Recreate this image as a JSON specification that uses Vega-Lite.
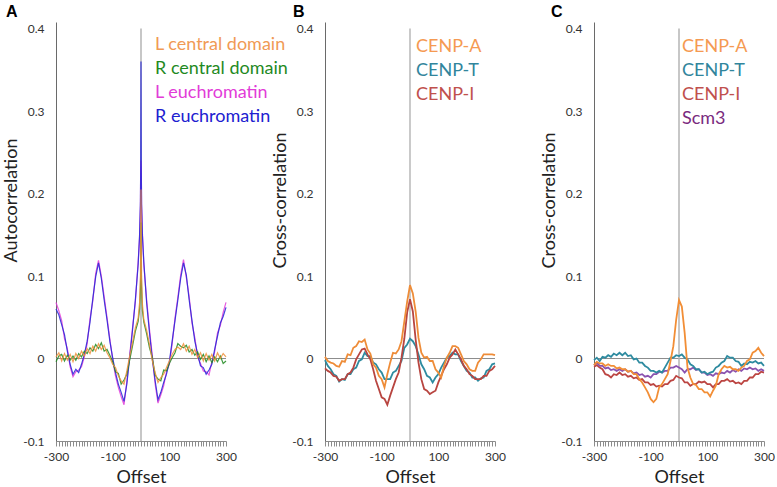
{
"$schema": "https://vega.github.io/schema/vega-lite/v6.json",
"background": "white",
"padding": {"left": 2, "top": 4, "right": 0, "bottom": 0},
"bounds": "flush",
"spacing": 99,
"config": {"view": {"stroke": null}, "font": "Lato"},
"resolve": {"scale": {"color": "independent", "x": "independent", "y": "independent"}, "legend": {"color": "independent"}},
"datasets": {
"a": [
{"x":-300,"s":"LE","y":0.068},{"x":-300,"s":"RE","y":0.060},{"x":-300,"s":"RC","y":-0.004},{"x":-300,"s":"LC","y":0.002},
{"x":-290,"s":"RE","y":0.053},{"x":-290,"s":"LE","y":0.058},{"x":-290,"s":"LC","y":0.007},{"x":-290,"s":"RC","y":0.003},
{"x":-280,"s":"RE","y":0.041},{"x":-280,"s":"LE","y":0.046},{"x":-280,"s":"LC","y":-0.003},{"x":-280,"s":"RC","y":0.005},
{"x":-270,"s":"RE","y":0.029},{"x":-270,"s":"LE","y":0.024},{"x":-270,"s":"LC","y":0.006},{"x":-270,"s":"RC","y":-0.003},
{"x":-260,"s":"RE","y":0.009},{"x":-260,"s":"LE","y":0.012},{"x":-260,"s":"LC","y":-0.002},{"x":-260,"s":"RC","y":0.004},
{"x":-250,"s":"RE","y":-0.007},{"x":-250,"s":"LE","y":-0.010},{"x":-250,"s":"LC","y":0.005},{"x":-250,"s":"RC","y":-0.002},
{"x":-240,"s":"RE","y":-0.019},{"x":-240,"s":"LE","y":-0.022},{"x":-240,"s":"LC","y":-0.004},{"x":-240,"s":"RC","y":0.003},
{"x":-230,"s":"RE","y":-0.013},{"x":-230,"s":"LE","y":-0.016},{"x":-230,"s":"LC","y":0.006},{"x":-230,"s":"RC","y":-0.002},
{"x":-220,"s":"RE","y":-0.017},{"x":-220,"s":"LE","y":-0.014},{"x":-220,"s":"LC","y":0.000},{"x":-220,"s":"RC","y":0.006},
{"x":-210,"s":"RE","y":-0.007},{"x":-210,"s":"LE","y":-0.010},{"x":-210,"s":"LC","y":0.009},{"x":-210,"s":"RC","y":0.002},
{"x":-200,"s":"RE","y":0.005},{"x":-200,"s":"LE","y":0.002},{"x":-200,"s":"LC","y":0.003},{"x":-200,"s":"RC","y":0.009},
{"x":-190,"s":"RE","y":0.021},{"x":-190,"s":"LE","y":0.018},{"x":-190,"s":"LC","y":0.012},{"x":-190,"s":"RC","y":0.006},
{"x":-180,"s":"RE","y":0.044},{"x":-180,"s":"LE","y":0.048},{"x":-180,"s":"LC","y":0.006},{"x":-180,"s":"RC","y":0.013},
{"x":-170,"s":"RE","y":0.073},{"x":-170,"s":"LE","y":0.070},{"x":-170,"s":"LC","y":0.015},{"x":-170,"s":"RC","y":0.009},
{"x":-160,"s":"RE","y":0.099},{"x":-160,"s":"LE","y":0.103},{"x":-160,"s":"LC","y":0.009},{"x":-160,"s":"RC","y":0.017},
{"x":-150,"s":"RE","y":0.116},{"x":-150,"s":"LE","y":0.119},{"x":-150,"s":"LC","y":0.018},{"x":-150,"s":"RC","y":0.012},
{"x":-140,"s":"RE","y":0.097},{"x":-140,"s":"LE","y":0.100},{"x":-140,"s":"LC","y":0.011},{"x":-140,"s":"RC","y":0.019},
{"x":-130,"s":"RE","y":0.071},{"x":-130,"s":"LE","y":0.075},{"x":-130,"s":"LC","y":0.016},{"x":-130,"s":"RC","y":0.009},
{"x":-120,"s":"RE","y":0.047},{"x":-120,"s":"LE","y":0.050},{"x":-120,"s":"LC","y":0.007},{"x":-120,"s":"RC","y":0.011},
{"x":-110,"s":"RE","y":0.021},{"x":-110,"s":"LE","y":0.024},{"x":-110,"s":"LC","y":0.001},{"x":-110,"s":"RC","y":0.004},
{"x":-100,"s":"RE","y":0.001},{"x":-100,"s":"LE","y":-0.002},{"x":-100,"s":"LC","y":-0.007},{"x":-100,"s":"RC","y":-0.004},
{"x":-90,"s":"RE","y":-0.017},{"x":-90,"s":"LE","y":-0.021},{"x":-90,"s":"LC","y":-0.011},{"x":-90,"s":"RC","y":-0.016},
{"x":-80,"s":"RE","y":-0.031},{"x":-80,"s":"LE","y":-0.035},{"x":-80,"s":"LC","y":-0.021},{"x":-80,"s":"RC","y":-0.018},
{"x":-70,"s":"RE","y":-0.041},{"x":-70,"s":"LE","y":-0.046},{"x":-70,"s":"LC","y":-0.027},{"x":-70,"s":"RC","y":-0.031},
{"x":-60,"s":"RE","y":-0.052},{"x":-60,"s":"LE","y":-0.056},{"x":-60,"s":"LC","y":-0.031},{"x":-60,"s":"RC","y":-0.026},
{"x":-50,"s":"RE","y":-0.031},{"x":-50,"s":"LE","y":-0.028},{"x":-50,"s":"LC","y":-0.015},{"x":-50,"s":"RC","y":-0.019},
{"x":-40,"s":"RE","y":0.001},{"x":-40,"s":"LE","y":0.004},{"x":-40,"s":"LC","y":0.003},{"x":-40,"s":"RC","y":-0.002},
{"x":-30,"s":"RE","y":0.034},{"x":-30,"s":"LE","y":0.037},{"x":-30,"s":"LC","y":0.019},{"x":-30,"s":"RC","y":0.015},
{"x":-20,"s":"RE","y":0.071},{"x":-20,"s":"LE","y":0.068},{"x":-20,"s":"LC","y":0.037},{"x":-20,"s":"RC","y":0.033},
{"x":-10,"s":"RE","y":0.114},{"x":-10,"s":"LE","y":0.118},{"x":-10,"s":"LC","y":0.049},{"x":-10,"s":"RC","y":0.045},
{"x":-5,"s":"RE","y":0.150},{"x":-5,"s":"LE","y":0.146},{"x":-5,"s":"LC","y":0.068},{"x":-5,"s":"RC","y":0.060},
{"x":-2,"s":"RE","y":0.190},{"x":-2,"s":"LE","y":0.185},{"x":-2,"s":"LC","y":0.100},{"x":-2,"s":"RC","y":0.085},
{"x":-1,"s":"RE","y":0.236},{"x":-1,"s":"LE","y":0.232},{"x":-1,"s":"LC","y":0.140},{"x":-1,"s":"RC","y":0.110},
{"x":0,"s":"RE","y":0.360},{"x":0,"s":"LE","y":0.240},{"x":0,"s":"LC","y":0.205},{"x":0,"s":"RC","y":0.165},
{"x":1,"s":"RE","y":0.234},{"x":1,"s":"LE","y":0.230},{"x":1,"s":"LC","y":0.135},{"x":1,"s":"RC","y":0.112},
{"x":2,"s":"RE","y":0.188},{"x":2,"s":"LE","y":0.186},{"x":2,"s":"LC","y":0.098},{"x":2,"s":"RC","y":0.088},
{"x":5,"s":"RE","y":0.149},{"x":5,"s":"LE","y":0.152},{"x":5,"s":"LC","y":0.066},{"x":5,"s":"RC","y":0.058},
{"x":10,"s":"RE","y":0.117},{"x":10,"s":"LE","y":0.113},{"x":10,"s":"LC","y":0.047},{"x":10,"s":"RC","y":0.044},
{"x":20,"s":"RE","y":0.067},{"x":20,"s":"LE","y":0.071},{"x":20,"s":"LC","y":0.034},{"x":20,"s":"RC","y":0.030},
{"x":30,"s":"RE","y":0.031},{"x":30,"s":"LE","y":0.035},{"x":30,"s":"LC","y":0.017},{"x":30,"s":"RC","y":0.013},
{"x":40,"s":"RE","y":-0.001},{"x":40,"s":"LE","y":0.003},{"x":40,"s":"LC","y":-0.003},{"x":40,"s":"RC","y":0.001},
{"x":50,"s":"RE","y":-0.027},{"x":50,"s":"LE","y":-0.031},{"x":50,"s":"LC","y":-0.017},{"x":50,"s":"RC","y":-0.020},
{"x":60,"s":"RE","y":-0.050},{"x":60,"s":"LE","y":-0.054},{"x":60,"s":"LC","y":-0.029},{"x":60,"s":"RC","y":-0.025},
{"x":70,"s":"RE","y":-0.041},{"x":70,"s":"LE","y":-0.044},{"x":70,"s":"LC","y":-0.023},{"x":70,"s":"RC","y":-0.027},
{"x":80,"s":"RE","y":-0.029},{"x":80,"s":"LE","y":-0.033},{"x":80,"s":"LC","y":-0.019},{"x":80,"s":"RC","y":-0.014},
{"x":90,"s":"RE","y":-0.019},{"x":90,"s":"LE","y":-0.016},{"x":90,"s":"LC","y":-0.011},{"x":90,"s":"RC","y":-0.015},
{"x":100,"s":"RE","y":-0.004},{"x":100,"s":"LE","y":-0.007},{"x":100,"s":"LC","y":-0.003},{"x":100,"s":"RC","y":-0.006},
{"x":110,"s":"RE","y":0.021},{"x":110,"s":"LE","y":0.018},{"x":110,"s":"LC","y":0.005},{"x":110,"s":"RC","y":0.001},
{"x":120,"s":"RE","y":0.046},{"x":120,"s":"LE","y":0.049},{"x":120,"s":"LC","y":0.011},{"x":120,"s":"RC","y":0.007},
{"x":130,"s":"RE","y":0.071},{"x":130,"s":"LE","y":0.074},{"x":130,"s":"LC","y":0.014},{"x":130,"s":"RC","y":0.018},
{"x":140,"s":"RE","y":0.097},{"x":140,"s":"LE","y":0.101},{"x":140,"s":"LC","y":0.011},{"x":140,"s":"RC","y":0.015},
{"x":150,"s":"RE","y":0.116},{"x":150,"s":"LE","y":0.120},{"x":150,"s":"LC","y":0.018},{"x":150,"s":"RC","y":0.013},
{"x":160,"s":"RE","y":0.101},{"x":160,"s":"LE","y":0.098},{"x":160,"s":"LC","y":0.009},{"x":160,"s":"RC","y":0.016},
{"x":170,"s":"RE","y":0.071},{"x":170,"s":"LE","y":0.075},{"x":170,"s":"LC","y":0.015},{"x":170,"s":"RC","y":0.008},
{"x":180,"s":"RE","y":0.046},{"x":180,"s":"LE","y":0.043},{"x":180,"s":"LC","y":0.005},{"x":180,"s":"RC","y":0.011},
{"x":190,"s":"RE","y":0.021},{"x":190,"s":"LE","y":0.025},{"x":190,"s":"LC","y":0.011},{"x":190,"s":"RC","y":0.004},
{"x":200,"s":"RE","y":0.005},{"x":200,"s":"LE","y":0.002},{"x":200,"s":"LC","y":0.001},{"x":200,"s":"RC","y":0.008},
{"x":210,"s":"RE","y":-0.009},{"x":210,"s":"LE","y":-0.006},{"x":210,"s":"LC","y":0.007},{"x":210,"s":"RC","y":-0.001},
{"x":220,"s":"RE","y":-0.011},{"x":220,"s":"LE","y":-0.015},{"x":220,"s":"LC","y":-0.003},{"x":220,"s":"RC","y":0.005},
{"x":230,"s":"RE","y":-0.019},{"x":230,"s":"LE","y":-0.016},{"x":230,"s":"LC","y":0.006},{"x":230,"s":"RC","y":-0.004},
{"x":240,"s":"RE","y":-0.014},{"x":240,"s":"LE","y":-0.020},{"x":240,"s":"LC","y":-0.002},{"x":240,"s":"RC","y":0.003},
{"x":250,"s":"RE","y":-0.007},{"x":250,"s":"LE","y":-0.004},{"x":250,"s":"LC","y":0.005},{"x":250,"s":"RC","y":-0.005},
{"x":260,"s":"RE","y":0.011},{"x":260,"s":"LE","y":0.008},{"x":260,"s":"LC","y":-0.003},{"x":260,"s":"RC","y":0.002},
{"x":270,"s":"RE","y":0.027},{"x":270,"s":"LE","y":0.031},{"x":270,"s":"LC","y":0.007},{"x":270,"s":"RC","y":-0.004},
{"x":280,"s":"RE","y":0.043},{"x":280,"s":"LE","y":0.040},{"x":280,"s":"LC","y":0.000},{"x":280,"s":"RC","y":0.003},
{"x":290,"s":"RE","y":0.051},{"x":290,"s":"LE","y":0.056},{"x":290,"s":"LC","y":0.006},{"x":290,"s":"RC","y":-0.006},
{"x":300,"s":"RE","y":0.062},{"x":300,"s":"LE","y":0.068},{"x":300,"s":"LC","y":0.002},{"x":300,"s":"RC","y":-0.003}
],
"b": [
{"x":-300,"s":"T","y":-0.002},{"x":-300,"s":"I","y":-0.012},{"x":-300,"s":"A","y":0.002},
{"x":-290,"s":"A","y":-0.003},{"x":-290,"s":"T","y":-0.009},{"x":-290,"s":"I","y":-0.015},
{"x":-280,"s":"A","y":-0.005},{"x":-280,"s":"T","y":-0.013},{"x":-280,"s":"I","y":-0.017},
{"x":-270,"s":"A","y":-0.006},{"x":-270,"s":"T","y":-0.019},{"x":-270,"s":"I","y":-0.021},
{"x":-260,"s":"A","y":-0.009},{"x":-260,"s":"T","y":-0.021},{"x":-260,"s":"I","y":-0.022},
{"x":-250,"s":"A","y":-0.010},{"x":-250,"s":"T","y":-0.028},{"x":-250,"s":"I","y":-0.027},
{"x":-240,"s":"A","y":-0.003},{"x":-240,"s":"T","y":-0.025},{"x":-240,"s":"I","y":-0.025},
{"x":-230,"s":"A","y":-0.004},{"x":-230,"s":"T","y":-0.026},{"x":-230,"s":"I","y":-0.025},
{"x":-220,"s":"A","y":0.005},{"x":-220,"s":"T","y":-0.019},{"x":-220,"s":"I","y":-0.019},
{"x":-210,"s":"A","y":0.004},{"x":-210,"s":"T","y":-0.019},{"x":-210,"s":"I","y":-0.017},
{"x":-200,"s":"A","y":0.013},{"x":-200,"s":"T","y":-0.013},{"x":-200,"s":"I","y":-0.011},
{"x":-190,"s":"A","y":0.015},{"x":-190,"s":"T","y":-0.011},{"x":-190,"s":"I","y":-0.001},
{"x":-180,"s":"A","y":0.021},{"x":-180,"s":"T","y":-0.003},{"x":-180,"s":"I","y":0.005},
{"x":-170,"s":"A","y":0.020},{"x":-170,"s":"T","y":-0.001},{"x":-170,"s":"I","y":0.011},
{"x":-160,"s":"A","y":0.023},{"x":-160,"s":"T","y":0.007},{"x":-160,"s":"I","y":0.012},
{"x":-150,"s":"A","y":0.011},{"x":-150,"s":"T","y":0.003},{"x":-150,"s":"I","y":0.005},
{"x":-140,"s":"A","y":0.006},{"x":-140,"s":"T","y":0.003},{"x":-140,"s":"I","y":-0.001},
{"x":-130,"s":"A","y":-0.007},{"x":-130,"s":"T","y":-0.005},{"x":-130,"s":"I","y":-0.013},
{"x":-120,"s":"A","y":-0.011},{"x":-120,"s":"T","y":-0.007},{"x":-120,"s":"I","y":-0.027},
{"x":-110,"s":"A","y":-0.021},{"x":-110,"s":"T","y":-0.013},{"x":-110,"s":"I","y":-0.037},
{"x":-100,"s":"A","y":-0.025},{"x":-100,"s":"T","y":-0.017},{"x":-100,"s":"I","y":-0.047},
{"x":-90,"s":"A","y":-0.035},{"x":-90,"s":"T","y":-0.025},{"x":-90,"s":"I","y":-0.049},
{"x":-80,"s":"A","y":-0.019},{"x":-80,"s":"T","y":-0.025},{"x":-80,"s":"I","y":-0.056},
{"x":-70,"s":"A","y":-0.005},{"x":-70,"s":"T","y":-0.025},{"x":-70,"s":"I","y":-0.045},
{"x":-60,"s":"A","y":0.007},{"x":-60,"s":"T","y":-0.017},{"x":-60,"s":"I","y":-0.035},
{"x":-50,"s":"A","y":0.006},{"x":-50,"s":"T","y":-0.015},{"x":-50,"s":"I","y":-0.025},
{"x":-40,"s":"A","y":0.011},{"x":-40,"s":"T","y":-0.009},{"x":-40,"s":"I","y":-0.017},
{"x":-30,"s":"A","y":0.021},{"x":-30,"s":"T","y":-0.003},{"x":-30,"s":"I","y":0.001},
{"x":-20,"s":"A","y":0.045},{"x":-20,"s":"T","y":0.013},{"x":-20,"s":"I","y":0.024},
{"x":-10,"s":"A","y":0.069},{"x":-10,"s":"T","y":0.017},{"x":-10,"s":"I","y":0.056},
{"x":0,"s":"A","y":0.089},{"x":0,"s":"T","y":0.024},{"x":0,"s":"I","y":0.072},
{"x":10,"s":"A","y":0.079},{"x":10,"s":"T","y":0.021},{"x":10,"s":"I","y":0.057},
{"x":20,"s":"A","y":0.057},{"x":20,"s":"T","y":0.015},{"x":20,"s":"I","y":0.023},
{"x":30,"s":"A","y":0.025},{"x":30,"s":"T","y":0.005},{"x":30,"s":"I","y":-0.005},
{"x":40,"s":"A","y":0.007},{"x":40,"s":"T","y":-0.007},{"x":40,"s":"I","y":-0.025},
{"x":50,"s":"A","y":0.001},{"x":50,"s":"T","y":-0.013},{"x":50,"s":"I","y":-0.037},
{"x":60,"s":"A","y":0.002},{"x":60,"s":"T","y":-0.021},{"x":60,"s":"I","y":-0.039},
{"x":70,"s":"A","y":-0.003},{"x":70,"s":"T","y":-0.023},{"x":70,"s":"I","y":-0.043},
{"x":80,"s":"A","y":-0.003},{"x":80,"s":"T","y":-0.029},{"x":80,"s":"I","y":-0.041},
{"x":90,"s":"A","y":-0.013},{"x":90,"s":"T","y":-0.023},{"x":90,"s":"I","y":-0.039},
{"x":100,"s":"A","y":-0.017},{"x":100,"s":"T","y":-0.019},{"x":100,"s":"I","y":-0.029},
{"x":110,"s":"A","y":-0.023},{"x":110,"s":"T","y":-0.011},{"x":110,"s":"I","y":-0.021},
{"x":120,"s":"A","y":-0.009},{"x":120,"s":"T","y":-0.005},{"x":120,"s":"I","y":-0.013},
{"x":130,"s":"A","y":0.001},{"x":130,"s":"T","y":0.001},{"x":130,"s":"I","y":-0.007},
{"x":140,"s":"A","y":0.007},{"x":140,"s":"T","y":0.003},{"x":140,"s":"I","y":0.001},
{"x":150,"s":"A","y":0.015},{"x":150,"s":"T","y":0.007},{"x":150,"s":"I","y":0.005},
{"x":160,"s":"A","y":0.015},{"x":160,"s":"T","y":0.005},{"x":160,"s":"I","y":0.011},
{"x":170,"s":"A","y":0.013},{"x":170,"s":"T","y":0.005},{"x":170,"s":"I","y":0.005},
{"x":180,"s":"A","y":0.005},{"x":180,"s":"T","y":-0.003},{"x":180,"s":"I","y":-0.001},
{"x":190,"s":"A","y":-0.003},{"x":190,"s":"T","y":-0.009},{"x":190,"s":"I","y":-0.009},
{"x":200,"s":"A","y":-0.007},{"x":200,"s":"T","y":-0.015},{"x":200,"s":"I","y":-0.013},
{"x":210,"s":"A","y":-0.013},{"x":210,"s":"T","y":-0.017},{"x":210,"s":"I","y":-0.019},
{"x":220,"s":"A","y":-0.015},{"x":220,"s":"T","y":-0.023},{"x":220,"s":"I","y":-0.021},
{"x":230,"s":"A","y":-0.015},{"x":230,"s":"T","y":-0.023},{"x":230,"s":"I","y":-0.025},
{"x":240,"s":"A","y":-0.005},{"x":240,"s":"T","y":-0.027},{"x":240,"s":"I","y":-0.025},
{"x":250,"s":"A","y":-0.001},{"x":250,"s":"T","y":-0.024},{"x":250,"s":"I","y":-0.025},
{"x":260,"s":"A","y":0.005},{"x":260,"s":"T","y":-0.023},{"x":260,"s":"I","y":-0.021},
{"x":270,"s":"A","y":0.005},{"x":270,"s":"T","y":-0.015},{"x":270,"s":"I","y":-0.021},
{"x":280,"s":"A","y":0.005},{"x":280,"s":"T","y":-0.013},{"x":280,"s":"I","y":-0.015},
{"x":290,"s":"A","y":0.005},{"x":290,"s":"T","y":-0.007},{"x":290,"s":"I","y":-0.013},
{"x":300,"s":"A","y":0.004},{"x":300,"s":"T","y":-0.006},{"x":300,"s":"I","y":-0.009}
],
"c": [
{"x":-300,"s":"I","y":-0.010},{"x":-300,"s":"S","y":-0.008},{"x":-300,"s":"T","y":-0.002},{"x":-300,"s":"A","y":-0.008},
{"x":-290,"s":"A","y":-0.004},{"x":-290,"s":"T","y":0.001},{"x":-290,"s":"I","y":-0.008},{"x":-290,"s":"S","y":-0.005},
{"x":-280,"s":"A","y":-0.006},{"x":-280,"s":"T","y":-0.003},{"x":-280,"s":"I","y":-0.011},{"x":-280,"s":"S","y":-0.009},
{"x":-270,"s":"A","y":-0.006},{"x":-270,"s":"T","y":0.002},{"x":-270,"s":"I","y":-0.013},{"x":-270,"s":"S","y":-0.009},
{"x":-260,"s":"A","y":-0.009},{"x":-260,"s":"T","y":0.001},{"x":-260,"s":"I","y":-0.019},{"x":-260,"s":"S","y":-0.012},
{"x":-250,"s":"A","y":-0.007},{"x":-250,"s":"T","y":0.004},{"x":-250,"s":"I","y":-0.020},{"x":-250,"s":"S","y":-0.011},
{"x":-240,"s":"A","y":-0.009},{"x":-240,"s":"T","y":0.002},{"x":-240,"s":"I","y":-0.023},{"x":-240,"s":"S","y":-0.014},
{"x":-230,"s":"A","y":-0.009},{"x":-230,"s":"T","y":0.006},{"x":-230,"s":"I","y":-0.019},{"x":-230,"s":"S","y":-0.013},
{"x":-220,"s":"A","y":-0.012},{"x":-220,"s":"T","y":0.004},{"x":-220,"s":"I","y":-0.020},{"x":-220,"s":"S","y":-0.015},
{"x":-210,"s":"A","y":-0.011},{"x":-210,"s":"T","y":0.007},{"x":-210,"s":"I","y":-0.017},{"x":-210,"s":"S","y":-0.013},
{"x":-200,"s":"A","y":-0.013},{"x":-200,"s":"T","y":0.004},{"x":-200,"s":"I","y":-0.020},{"x":-200,"s":"S","y":-0.015},
{"x":-190,"s":"A","y":-0.013},{"x":-190,"s":"T","y":0.007},{"x":-190,"s":"I","y":-0.019},{"x":-190,"s":"S","y":-0.013},
{"x":-180,"s":"A","y":-0.016},{"x":-180,"s":"T","y":0.003},{"x":-180,"s":"I","y":-0.022},{"x":-180,"s":"S","y":-0.016},
{"x":-170,"s":"A","y":-0.015},{"x":-170,"s":"T","y":0.004},{"x":-170,"s":"I","y":-0.021},{"x":-170,"s":"S","y":-0.015},
{"x":-160,"s":"A","y":-0.019},{"x":-160,"s":"T","y":-0.001},{"x":-160,"s":"I","y":-0.024},{"x":-160,"s":"S","y":-0.018},
{"x":-150,"s":"A","y":-0.019},{"x":-150,"s":"T","y":0.000},{"x":-150,"s":"I","y":-0.023},{"x":-150,"s":"S","y":-0.017},
{"x":-140,"s":"A","y":-0.025},{"x":-140,"s":"T","y":-0.005},{"x":-140,"s":"I","y":-0.026},{"x":-140,"s":"S","y":-0.020},
{"x":-130,"s":"A","y":-0.029},{"x":-130,"s":"T","y":-0.005},{"x":-130,"s":"I","y":-0.025},{"x":-130,"s":"S","y":-0.019},
{"x":-120,"s":"A","y":-0.035},{"x":-120,"s":"T","y":-0.009},{"x":-120,"s":"I","y":-0.029},{"x":-120,"s":"S","y":-0.022},
{"x":-110,"s":"A","y":-0.041},{"x":-110,"s":"T","y":-0.011},{"x":-110,"s":"I","y":-0.029},{"x":-110,"s":"S","y":-0.021},
{"x":-100,"s":"A","y":-0.049},{"x":-100,"s":"T","y":-0.015},{"x":-100,"s":"I","y":-0.032},{"x":-100,"s":"S","y":-0.023},
{"x":-90,"s":"A","y":-0.053},{"x":-90,"s":"T","y":-0.015},{"x":-90,"s":"I","y":-0.031},{"x":-90,"s":"S","y":-0.019},
{"x":-80,"s":"A","y":-0.049},{"x":-80,"s":"T","y":-0.017},{"x":-80,"s":"I","y":-0.034},{"x":-80,"s":"S","y":-0.019},
{"x":-70,"s":"A","y":-0.035},{"x":-70,"s":"T","y":-0.015},{"x":-70,"s":"I","y":-0.033},{"x":-70,"s":"S","y":-0.016},
{"x":-60,"s":"A","y":-0.031},{"x":-60,"s":"T","y":-0.017},{"x":-60,"s":"I","y":-0.034},{"x":-60,"s":"S","y":-0.017},
{"x":-50,"s":"A","y":-0.025},{"x":-50,"s":"T","y":-0.011},{"x":-50,"s":"I","y":-0.031},{"x":-50,"s":"S","y":-0.015},
{"x":-40,"s":"A","y":-0.019},{"x":-40,"s":"T","y":-0.005},{"x":-40,"s":"I","y":-0.031},{"x":-40,"s":"S","y":-0.015},
{"x":-30,"s":"A","y":-0.003},{"x":-30,"s":"T","y":0.001},{"x":-30,"s":"I","y":-0.027},{"x":-30,"s":"S","y":-0.011},
{"x":-20,"s":"A","y":0.015},{"x":-20,"s":"T","y":0.001},{"x":-20,"s":"I","y":-0.026},{"x":-20,"s":"S","y":-0.011},
{"x":-10,"s":"A","y":0.047},{"x":-10,"s":"T","y":0.004},{"x":-10,"s":"I","y":-0.021},{"x":-10,"s":"S","y":-0.009},
{"x":0,"s":"A","y":0.071},{"x":0,"s":"T","y":0.003},{"x":0,"s":"I","y":-0.023},{"x":0,"s":"S","y":-0.011},
{"x":10,"s":"A","y":0.063},{"x":10,"s":"T","y":0.005},{"x":10,"s":"I","y":-0.024},{"x":10,"s":"S","y":-0.013},
{"x":20,"s":"A","y":0.031},{"x":20,"s":"T","y":0.001},{"x":20,"s":"I","y":-0.029},{"x":20,"s":"S","y":-0.017},
{"x":30,"s":"A","y":-0.011},{"x":30,"s":"T","y":-0.001},{"x":30,"s":"I","y":-0.029},{"x":30,"s":"S","y":-0.013},
{"x":40,"s":"A","y":-0.023},{"x":40,"s":"T","y":-0.007},{"x":40,"s":"I","y":-0.033},{"x":40,"s":"S","y":-0.013},
{"x":50,"s":"A","y":-0.031},{"x":50,"s":"T","y":-0.009},{"x":50,"s":"I","y":-0.031},{"x":50,"s":"S","y":-0.011},
{"x":60,"s":"A","y":-0.032},{"x":60,"s":"T","y":-0.013},{"x":60,"s":"I","y":-0.031},{"x":60,"s":"S","y":-0.014},
{"x":70,"s":"A","y":-0.037},{"x":70,"s":"T","y":-0.013},{"x":70,"s":"I","y":-0.028},{"x":70,"s":"S","y":-0.013},
{"x":80,"s":"A","y":-0.037},{"x":80,"s":"T","y":-0.017},{"x":80,"s":"I","y":-0.029},{"x":80,"s":"S","y":-0.017},
{"x":90,"s":"A","y":-0.041},{"x":90,"s":"T","y":-0.016},{"x":90,"s":"I","y":-0.028},{"x":90,"s":"S","y":-0.017},
{"x":100,"s":"A","y":-0.041},{"x":100,"s":"T","y":-0.019},{"x":100,"s":"I","y":-0.031},{"x":100,"s":"S","y":-0.020},
{"x":110,"s":"A","y":-0.046},{"x":110,"s":"T","y":-0.017},{"x":110,"s":"I","y":-0.031},{"x":110,"s":"S","y":-0.019},
{"x":120,"s":"A","y":-0.039},{"x":120,"s":"T","y":-0.016},{"x":120,"s":"I","y":-0.035},{"x":120,"s":"S","y":-0.021},
{"x":130,"s":"A","y":-0.033},{"x":130,"s":"T","y":-0.011},{"x":130,"s":"I","y":-0.031},{"x":130,"s":"S","y":-0.018},
{"x":140,"s":"A","y":-0.019},{"x":140,"s":"T","y":-0.009},{"x":140,"s":"I","y":-0.031},{"x":140,"s":"S","y":-0.019},
{"x":150,"s":"A","y":-0.013},{"x":150,"s":"T","y":-0.005},{"x":150,"s":"I","y":-0.027},{"x":150,"s":"S","y":-0.017},
{"x":160,"s":"A","y":-0.009},{"x":160,"s":"T","y":-0.003},{"x":160,"s":"I","y":-0.027},{"x":160,"s":"S","y":-0.018},
{"x":170,"s":"A","y":-0.011},{"x":170,"s":"T","y":0.003},{"x":170,"s":"I","y":-0.025},{"x":170,"s":"S","y":-0.015},
{"x":180,"s":"A","y":-0.010},{"x":180,"s":"T","y":0.001},{"x":180,"s":"I","y":-0.028},{"x":180,"s":"S","y":-0.017},
{"x":190,"s":"A","y":-0.013},{"x":190,"s":"T","y":0.001},{"x":190,"s":"I","y":-0.027},{"x":190,"s":"S","y":-0.014},
{"x":200,"s":"A","y":-0.013},{"x":200,"s":"T","y":-0.003},{"x":200,"s":"I","y":-0.030},{"x":200,"s":"S","y":-0.016},
{"x":210,"s":"A","y":-0.015},{"x":210,"s":"T","y":-0.004},{"x":210,"s":"I","y":-0.029},{"x":210,"s":"S","y":-0.013},
{"x":220,"s":"A","y":-0.011},{"x":220,"s":"T","y":-0.009},{"x":220,"s":"I","y":-0.031},{"x":220,"s":"S","y":-0.015},
{"x":230,"s":"A","y":-0.009},{"x":230,"s":"T","y":-0.006},{"x":230,"s":"I","y":-0.027},{"x":230,"s":"S","y":-0.012},
{"x":240,"s":"A","y":-0.003},{"x":240,"s":"T","y":-0.007},{"x":240,"s":"I","y":-0.027},{"x":240,"s":"S","y":-0.013},
{"x":250,"s":"A","y":-0.001},{"x":250,"s":"T","y":-0.004},{"x":250,"s":"I","y":-0.023},{"x":250,"s":"S","y":-0.011},
{"x":260,"s":"A","y":0.007},{"x":260,"s":"T","y":-0.005},{"x":260,"s":"I","y":-0.023},{"x":260,"s":"S","y":-0.013},
{"x":270,"s":"A","y":0.009},{"x":270,"s":"T","y":-0.003},{"x":270,"s":"I","y":-0.019},{"x":270,"s":"S","y":-0.012},
{"x":280,"s":"A","y":0.013},{"x":280,"s":"T","y":-0.006},{"x":280,"s":"I","y":-0.019},{"x":280,"s":"S","y":-0.015},
{"x":290,"s":"A","y":0.007},{"x":290,"s":"T","y":-0.005},{"x":290,"s":"I","y":-0.016},{"x":290,"s":"S","y":-0.013},
{"x":300,"s":"A","y":0.003},{"x":300,"s":"T","y":-0.009},{"x":300,"s":"I","y":-0.017},{"x":300,"s":"S","y":-0.015}
]
},
"hconcat": [
{
"width": 170, "height": 419,
"title": {"text": "A", "anchor": "start", "frame": "group", "dx": -50, "offset": 2, "fontSize": 16, "font": "Liberation Sans", "fontWeight": "bold", "color": "#000000"},
"layer": [
{"data": {"values": [{}]}, "mark": {"type": "rule", "color": "#8c8c8c", "strokeWidth": 1}, "encoding": {"y": {"datum": 0, "type": "quantitative"}}},
{"data": {"values": [{}]}, "mark": {"type": "rule", "color": "#b4b4b4", "strokeWidth": 1.5}, "encoding": {"x": {"datum": 0, "type": "quantitative"}, "y": {"datum": -0.1, "type": "quantitative"}, "y2": {"datum": 0.4}}},
{"data": {"name": "a"}, "mark": {"type": "line", "strokeWidth": 1.2, "opacity": 0.85},
 "encoding": {
  "x": {"field": "x", "type": "quantitative", "scale": {"domain": [-300, 300], "nice": false, "zero": false},
   "axis": {"title": "Offset", "tickCount": 100, "values": [-300,-290,-280,-270,-260,-250,-240,-230,-220,-210,-200,-190,-180,-170,-160,-150,-140,-130,-120,-110,-100,-90,-80,-70,-60,-50,-40,-30,-20,-10,0,10,20,30,40,50,60,70,80,90,100,110,120,130,140,150,160,170,180,190,200,210,220,230,240,250,260,270,280,290,300],
    "labelExpr": "abs(datum.value) % 200 == 100 ? datum.value + '' : ''", "labelFlush": false, "labelOverlap": false, "grid": false, "tickSize": 5, "tickColor": "#8c8c8c", "domainColor": "#8c8c8c", "labelFont": "Lato", "labelFontSize": 12, "labelColor": "#333333", "labelPadding": 5, "titleFont": "Lato", "titleFontSize": 18, "titleFontWeight": "normal", "titlePadding": 6, "titleColor": "#222222"}},
  "y": {"field": "y", "type": "quantitative", "scale": {"domain": [-0.1, 0.408], "nice": false, "zero": false},
   "axis": {"title": "Autocorrelation", "titleY": 178, "values": [-0.1, 0, 0.1, 0.2, 0.3, 0.4], "tickCount": 20, "labelExpr": "datum.value + ''", "ticks": false, "grid": false, "domainColor": "#6a6a6a", "labelFont": "Lato", "labelFontSize": 12, "labelColor": "#333333", "labelPadding": 12, "titleFont": "Lato", "titleFontSize": 18, "titleFontWeight": "normal", "titlePadding": 2, "titleColor": "#222222"}},
  "color": {"field": "s", "type": "nominal", "scale": {"domain": ["LC", "RC", "LE", "RE"], "range": ["#EE8F3A", "#1F8A1F", "#E23CD8", "#2424D8"]},
   "legend": {"title": null, "orient": "none", "legendX": 81, "legendY": 14, "direction": "vertical", "symbolSize": 0, "symbolOpacity": 0, "symbolStrokeWidth": 0, "labelOffset": 0, "padding": 0, "rowPadding": 6, "labelFont": "Lato", "labelFontSize": 18, "labelLimit": 400,
    "labelExpr": "datum.label == 'LC' ? 'L central domain' : datum.label == 'RC' ? 'R central domain' : datum.label == 'LE' ? 'L euchromatin' : 'R euchromatin'",
    "encode": {"labels": {"update": {"fill": {"signal": "datum.value == 'LC' ? '#F09A55' : datum.value == 'RC' ? '#1F8A1F' : datum.value == 'LE' ? '#E23CD8' : '#2020D0'"}}}}}}
 }}
]
},
{
"width": 170, "height": 419,
"title": {"text": "B", "anchor": "start", "frame": "group", "dx": -32, "offset": 2, "fontSize": 16, "font": "Liberation Sans", "fontWeight": "bold", "color": "#000000"},
"layer": [
{"data": {"values": [{}]}, "mark": {"type": "rule", "color": "#8c8c8c", "strokeWidth": 1}, "encoding": {"y": {"datum": 0, "type": "quantitative"}}},
{"data": {"values": [{}]}, "mark": {"type": "rule", "color": "#a6a6a6", "strokeWidth": 1.2}, "encoding": {"x": {"datum": 0, "type": "quantitative"}, "y": {"datum": -0.1, "type": "quantitative"}, "y2": {"datum": 0.4}}},
{"data": {"name": "b"}, "mark": {"type": "line", "strokeWidth": 1.8},
 "encoding": {
  "x": {"field": "x", "type": "quantitative", "scale": {"domain": [-300, 300], "nice": false, "zero": false},
   "axis": {"title": "Offset", "tickCount": 100, "values": [-300,-290,-280,-270,-260,-250,-240,-230,-220,-210,-200,-190,-180,-170,-160,-150,-140,-130,-120,-110,-100,-90,-80,-70,-60,-50,-40,-30,-20,-10,0,10,20,30,40,50,60,70,80,90,100,110,120,130,140,150,160,170,180,190,200,210,220,230,240,250,260,270,280,290,300],
    "labelExpr": "abs(datum.value) % 200 == 100 ? datum.value + '' : ''", "labelFlush": false, "labelOverlap": false, "grid": false, "tickSize": 5, "tickColor": "#8c8c8c", "domainColor": "#8c8c8c", "labelFont": "Lato", "labelFontSize": 12, "labelColor": "#333333", "labelPadding": 5, "titleFont": "Lato", "titleFontSize": 18, "titleFontWeight": "normal", "titlePadding": 6, "titleColor": "#222222"}},
  "y": {"field": "y", "type": "quantitative", "scale": {"domain": [-0.1, 0.408], "nice": false, "zero": false},
   "axis": {"title": "Cross-correlation", "titleY": 178, "values": [-0.1, 0, 0.1, 0.2, 0.3, 0.4], "tickCount": 20, "labelExpr": "datum.value + ''", "ticks": false, "grid": false, "domainColor": "#6a6a6a", "labelFont": "Lato", "labelFontSize": 12, "labelColor": "#333333", "labelPadding": 12, "titleFont": "Lato", "titleFontSize": 18, "titleFontWeight": "normal", "titlePadding": 2, "titleColor": "#222222"}},
  "color": {"field": "s", "type": "nominal", "scale": {"domain": ["A", "T", "I"], "range": ["#EE8C38", "#2E8BA0", "#B84540"]},
   "legend": {"title": null, "orient": "none", "legendX": 73, "legendY": 16, "direction": "vertical", "symbolSize": 0, "symbolOpacity": 0, "symbolStrokeWidth": 0, "labelOffset": 0, "padding": 0, "rowPadding": 6, "labelFont": "Lato", "labelFontSize": 18, "labelLimit": 400,
    "labelExpr": "datum.label == 'A' ? 'CENP-A' : datum.label == 'T' ? 'CENP-T' : 'CENP-I'",
    "encode": {"labels": {"update": {"fill": {"signal": "datum.value == 'A' ? '#F59A52' : datum.value == 'T' ? '#31859C' : '#C0504D'"}}}}}}
 }}
]
},
{
"width": 170, "height": 419,
"title": {"text": "C", "anchor": "start", "frame": "group", "dx": -43, "offset": 2, "fontSize": 16, "font": "Liberation Sans", "fontWeight": "bold", "color": "#000000"},
"layer": [
{"data": {"values": [{}]}, "mark": {"type": "rule", "color": "#8c8c8c", "strokeWidth": 1}, "encoding": {"y": {"datum": 0, "type": "quantitative"}}},
{"data": {"values": [{}]}, "mark": {"type": "rule", "color": "#b4b4b4", "strokeWidth": 1.5}, "encoding": {"x": {"datum": 0, "type": "quantitative"}, "y": {"datum": -0.1, "type": "quantitative"}, "y2": {"datum": 0.4}}},
{"data": {"name": "c"}, "mark": {"type": "line", "strokeWidth": 1.8},
 "encoding": {
  "x": {"field": "x", "type": "quantitative", "scale": {"domain": [-300, 300], "nice": false, "zero": false},
   "axis": {"title": "Offset", "tickCount": 100, "values": [-300,-290,-280,-270,-260,-250,-240,-230,-220,-210,-200,-190,-180,-170,-160,-150,-140,-130,-120,-110,-100,-90,-80,-70,-60,-50,-40,-30,-20,-10,0,10,20,30,40,50,60,70,80,90,100,110,120,130,140,150,160,170,180,190,200,210,220,230,240,250,260,270,280,290,300],
    "labelExpr": "abs(datum.value) % 200 == 100 ? datum.value + '' : ''", "labelFlush": false, "labelOverlap": false, "grid": false, "tickSize": 5, "tickColor": "#8c8c8c", "domainColor": "#8c8c8c", "labelFont": "Lato", "labelFontSize": 12, "labelColor": "#333333", "labelPadding": 5, "titleFont": "Lato", "titleFontSize": 18, "titleFontWeight": "normal", "titlePadding": 6, "titleColor": "#222222"}},
  "y": {"field": "y", "type": "quantitative", "scale": {"domain": [-0.1, 0.408], "nice": false, "zero": false},
   "axis": {"title": "Cross-correlation", "titleY": 178, "values": [-0.1, 0, 0.1, 0.2, 0.3, 0.4], "tickCount": 20, "labelExpr": "datum.value + ''", "ticks": false, "grid": false, "domainColor": "#6a6a6a", "labelFont": "Lato", "labelFontSize": 12, "labelColor": "#333333", "labelPadding": 12, "titleFont": "Lato", "titleFontSize": 18, "titleFontWeight": "normal", "titlePadding": 2, "titleColor": "#222222"}},
  "color": {"field": "s", "type": "nominal", "scale": {"domain": ["A", "T", "I", "S"], "range": ["#F28E36", "#2E8BA0", "#BC4542", "#8A52B0"]},
   "legend": {"title": null, "orient": "none", "legendX": 70, "legendY": 16, "direction": "vertical", "symbolSize": 0, "symbolOpacity": 0, "symbolStrokeWidth": 0, "labelOffset": 0, "padding": 0, "rowPadding": 6, "labelFont": "Lato", "labelFontSize": 18, "labelLimit": 400,
    "labelExpr": "datum.label == 'A' ? 'CENP-A' : datum.label == 'T' ? 'CENP-T' : datum.label == 'I' ? 'CENP-I' : 'Scm3'",
    "encode": {"labels": {"update": {"fill": {"signal": "datum.value == 'A' ? '#F59A52' : datum.value == 'T' ? '#31859C' : datum.value == 'I' ? '#C0504D' : '#7A2A7E'"}}}}}}
 }}
]
}
]
}
